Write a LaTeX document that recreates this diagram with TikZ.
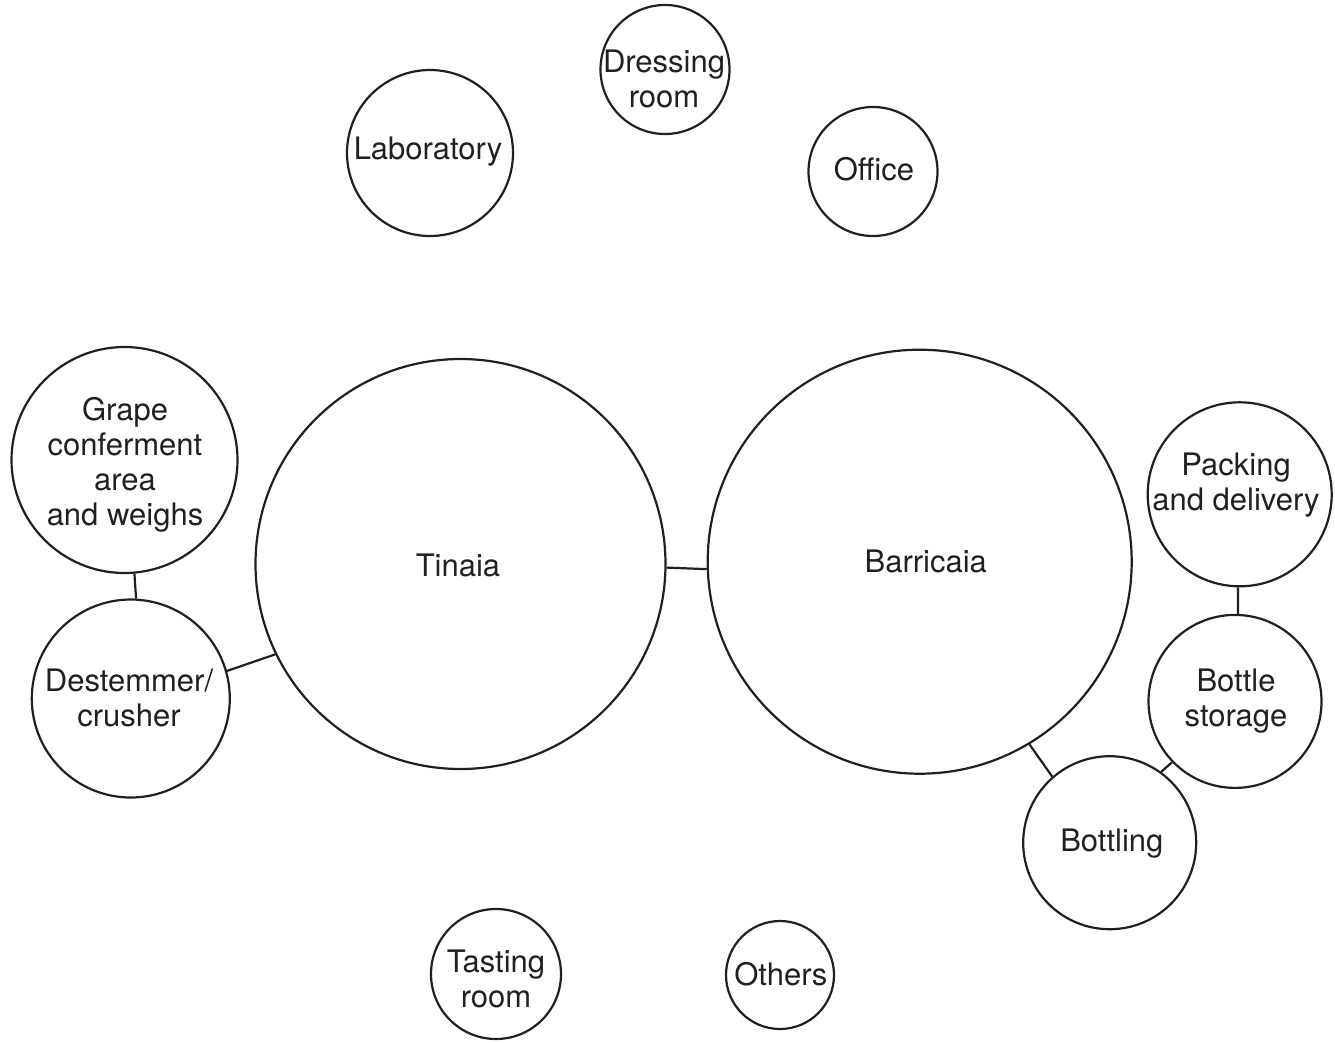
\documentclass[tikz,border=0pt]{standalone}
\usepackage{fontspec}
\setmainfont{TeX Gyre Heros}
\definecolor{ink}{RGB}{35,31,32}
\begin{document}
\begin{tikzpicture}[x=1pt,y=-1pt,
  bubble/.style={circle,draw=ink,line width=2.2pt,inner sep=0pt,minimum size=#1},
  lbl/.style={text=ink,align=center,font=\fontsize{31}{35}\selectfont,inner sep=0pt,yshift=-2pt},
  link/.style={draw=ink,line width=2.2pt}]
\useasboundingbox (0,0) rectangle (1335,1042);

% circles
\node[bubble=129pt] (dress) at (665,69.5) {};
\node[bubble=166pt] (lab) at (430,153) {};
\node[bubble=129pt] (office) at (873,171.5) {};
\node[bubble=226pt] (grape) at (124.5,460) {};
\node[bubble=410pt] (tinaia) at (460.5,564) {};
\node[bubble=424pt] (barri) at (919.7,561.7) {};
\node[bubble=184pt] (pack) at (1239.7,494.3) {};
\node[bubble=198pt] (dest) at (130.8,698.5) {};
\node[bubble=173pt] (store) at (1235,701.4) {};
\node[bubble=173pt] (bottling) at (1109.7,842.7) {};
\node[bubble=130pt] (tasting) at (496,974) {};
\node[bubble=108pt] (others) at (780,975) {};

% labels
\node[lbl] (dress-t) at (664,77) {Dressing\\room};
\node[lbl] (lab-t) at (428,149.3) {Laboratory};
\node[lbl] (office-t) at (874,167) {Office};
\node[lbl] (grape-t) at (125,462.4) {Grape\\conferment\\area\\and weighs};
\node[lbl] (tinaia-t) at (458,563.8) {Tinaia};
\node[lbl] (barri-t) at (925.8,559.5) {Barricaia};
\node[lbl] (pack-t) at (1236,482.9) {Packing\\and delivery};
\node[lbl] (dest-t) at (129,696.3) {Destemmer/\\crusher};
\node[lbl] (store-t) at (1236,698.9) {Bottle\\storage};
\node[lbl] (bottling-t) at (1111.8,842) {Bottling};
\node[lbl] (tasting-t) at (496,977.1) {Tasting\\room};
\node[lbl] (others-t) at (780.8,972) {Others};

% connectors
\draw[link] (tinaia.-1.4) -- (barri.182);
\draw[link] (grape.-85) -- (dest.87.2);
\draw[link] (dest.16.1) -- (tinaia.-154.9);
\draw[link] (barri.-59.4) -- (bottling.131.8);
\draw[link] (store.-136.2) -- (bottling.54);
\draw[link] (pack.-91.5) -- (store.88.5);
\end{tikzpicture}
\end{document}
